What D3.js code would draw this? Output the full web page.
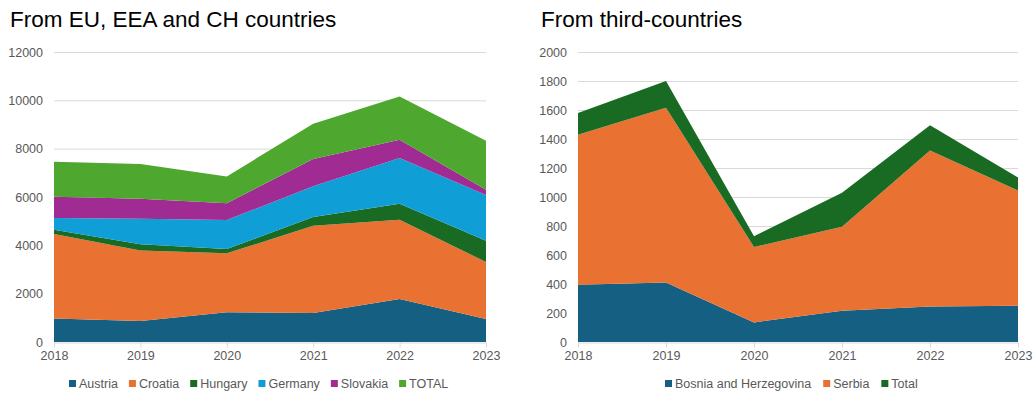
<!DOCTYPE html>
<html>
<head>
<meta charset="utf-8">
<script src="https://cdn.jsdelivr.net/npm/d3@7"></script>
<style>
  body { margin: 0; background: #fff; }
  svg { display: block; font-family: "Liberation Sans", Arial, sans-serif; }
</style>
</head>
<body>
<svg id="chart" width="1036" height="396"></svg>
<script>
// years shared by both charts
var years = [2018, 2019, 2020, 2021, 2022, 2023]

// left chart: EU, EEA and CH (stacked layers)
var euSeries = ['Austria', 'Croatia', 'Hungary', 'Germany', 'Slovakia', 'TOTAL']
var austria = [970, 870, 1230, 1200, 1780, 950]
var croatia = [3500, 2920, 2440, 3610, 3280, 2360]
var hungary = [180, 250, 180, 360, 660, 880]
var germany = [480, 1060, 1200, 1270, 1890, 1890]
var slovakia = [880, 830, 690, 1130, 760, 220]
var euTotal = [1450, 1440, 1110, 1460, 1790, 2030]
var euTicks = [0, 2000, 4000, 6000, 8000, 10000, 12000]

// right chart: third countries (stacked layers)
var thirdSeries = ['Bosnia and Herzegovina', 'Serbia', 'Total']
var bosnia = [395, 410, 135, 215, 245, 250]
var serbia = [1035, 1205, 520, 580, 1075, 795]
var thirdTotal = [150, 185, 75, 235, 175, 90]
var thirdTicks = [0, 200, 400, 600, 800, 1000, 1200, 1400, 1600, 1800, 2000]

var colorBlue = '#156082'
var colorOrange = '#E97132'
var colorDarkGreen = '#196B24'
var colorCyan = '#0F9ED5'
var colorPurple = '#A02B93'
var colorGreen = '#4EA72E'

var svg = d3.select('#chart')

function drawChart(opt) {
  var rows = years.map(function (y, i) {
    var r = { year: y }
    opt.names.forEach(function (n, k) { r[n] = opt.values[k][i] })
    return r
  })
  var stack = d3.stack().keys(opt.names)(rows)

  var x = d3.scaleLinear().domain([years[0], years[years.length - 1]]).range([opt.x0, opt.x1])
  var y = d3.scaleLinear().domain([0, opt.ticks[opt.ticks.length - 1]]).range([342, 52])

  var g = svg.append('g')

  g.append('text')
    .attr('x', opt.titleX).attr('y', 27)
    .attr('font-size', 22.5).attr('fill', '#000')
    .text(opt.title)

  // gridlines
  g.append('g')
    .selectAll('line')
    .data(opt.ticks.slice(1))
    .join('line')
    .attr('x1', opt.x0).attr('x2', opt.x1)
    .attr('y1', function (d) { return y(d) + 0.5 }).attr('y2', function (d) { return y(d) + 0.5 })
    .attr('stroke', '#d9d9d9').attr('stroke-width', 1)

  // y labels
  var yAxis = d3.axisLeft(y).tickValues(opt.ticks).tickFormat(d3.format('d')).tickSize(0).tickPadding(0)
  var ya = g.append('g').attr('transform', 'translate(' + (opt.x0 - 11) + ',0)').call(yAxis)
  ya.select('.domain').remove()
  ya.selectAll('text').attr('font-size', 12.5).attr('fill', '#595959')
    .attr('font-family', '"Liberation Sans", Arial, sans-serif')

  var area = d3.area()
    .x(function (d) { return x(d.data.year) })
    .y0(function (d) { return y(d[0]) })
    .y1(function (d) { return y(d[1]) })

  g.append('g')
    .selectAll('path')
    .data(stack)
    .join('path')
    .attr('d', area)
    .attr('fill', function (d, i) { return opt.colors[i] })

  // category axis
  var xAxis = d3.axisBottom(x).tickValues(years).tickFormat(d3.format('d')).tickSize(5).tickPadding(4).tickSizeOuter(0)
  var xa = g.append('g').attr('transform', 'translate(0,342.5)').call(xAxis)
  xa.select('.domain').attr('stroke', '#d9d9d9')
  xa.selectAll('.tick line').attr('stroke', '#d9d9d9')
  xa.selectAll('text').attr('font-size', 12.5).attr('fill', '#595959')
    .attr('font-family', '"Liberation Sans", Arial, sans-serif')

  // legend
  var leg = g.append('g')
  var lx = opt.legendX
  opt.names.forEach(function (n, i) {
    leg.append('rect')
      .attr('x', lx).attr('y', 380).attr('width', 7).attr('height', 7)
      .attr('fill', opt.colors[i])
    var t = leg.append('text')
      .attr('x', lx + 10).attr('y', 388)
      .attr('font-size', 12.5).attr('fill', '#595959')
      .text(n)
    lx += 10 + t.node().getComputedTextLength() + opt.legendGap
  })
}

drawChart({
  title: 'From EU, EEA and CH countries',
  titleX: 10,
  names: euSeries,
  values: [austria, croatia, hungary, germany, slovakia, euTotal],
  colors: [colorBlue, colorOrange, colorDarkGreen, colorCyan, colorPurple, colorGreen],
  ticks: euTicks,
  x0: 54, x1: 486,
  legendX: 69, legendGap: 11
})

drawChart({
  title: 'From third-countries',
  titleX: 541,
  names: thirdSeries,
  values: [bosnia, serbia, thirdTotal],
  colors: [colorBlue, colorOrange, colorDarkGreen],
  ticks: thirdTicks,
  x0: 578, x1: 1018,
  legendX: 665, legendGap: 12
})
</script>
</body>
</html>
